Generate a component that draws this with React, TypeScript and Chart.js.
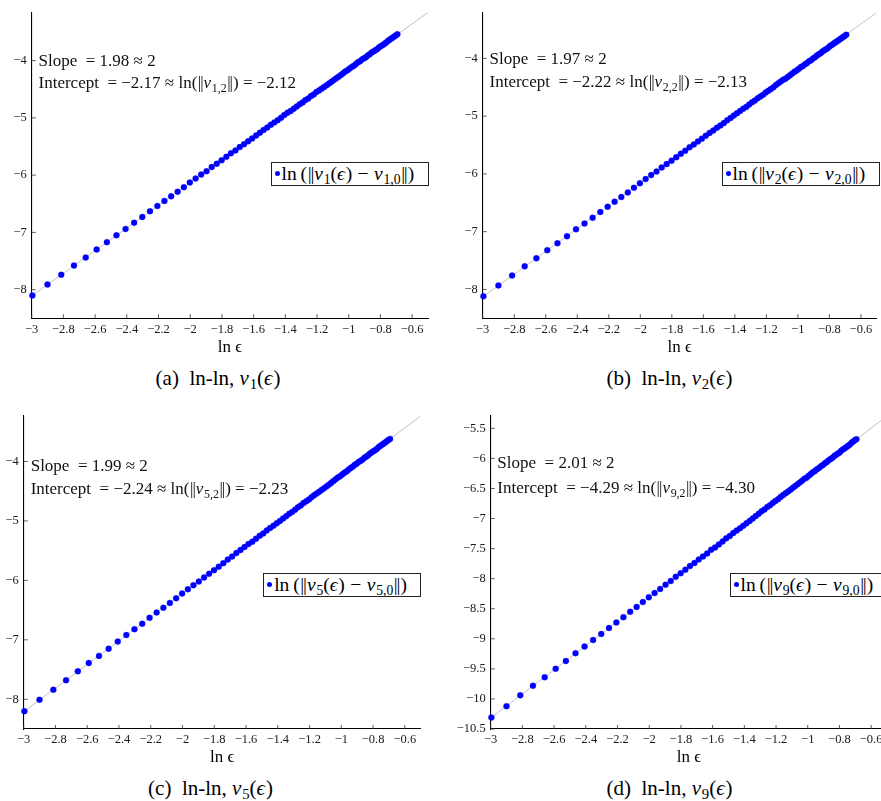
import React, { useEffect, useRef } from 'react';
import { Chart, registerables } from 'chart.js';

Chart.register(...registerables);

// ---------- data ----------
const lnEps = [
  -2.9957, -2.9004, -2.8134, -2.7334, -2.6593, -2.5903, -2.5257, -2.4651, -2.4079, -2.3539,
  -2.3026, -2.2538, -2.2073, -2.1628, -2.1203, -2.0794, -2.0402, -2.0025, -1.9661, -1.931,
  -1.8971, -1.8643, -1.8326, -1.8018, -1.772, -1.743, -1.7148, -1.6874, -1.6607, -1.6348,
  -1.6094, -1.5847, -1.5606, -1.5371, -1.5141, -1.4917, -1.4697, -1.4482, -1.4271, -1.4065,
  -1.3863, -1.3665, -1.3471, -1.328, -1.3093, -1.291, -1.273, -1.2553, -1.2379, -1.2208,
  -1.204, -1.1874, -1.1712, -1.1552, -1.1394, -1.1239, -1.1087, -1.0936, -1.0788, -1.0642,
  -1.0498, -1.0356, -1.0217, -1.0079, -0.9943, -0.9808, -0.9676, -0.9545, -0.9416, -0.9289,
  -0.9163, -0.9039, -0.8916, -0.8795, -0.8675, -0.8557, -0.844, -0.8324, -0.821, -0.8097,
  -0.7985, -0.7875, -0.7765, -0.7657, -0.755, -0.7444, -0.734, -0.7236, -0.7133, -0.7032,
  -0.6931,
];

const lnNormV1 = [
  -8.10, -7.91, -7.74, -7.58, -7.44, -7.30, -7.17, -7.05, -6.94, -6.83,
  -6.73, -6.63, -6.54, -6.45, -6.37, -6.29, -6.21, -6.13, -6.06, -5.99,
  -5.93, -5.86, -5.80, -5.74, -5.68, -5.62, -5.57, -5.51, -5.46, -5.41,
  -5.36, -5.31, -5.26, -5.21, -5.17, -5.12, -5.08, -5.04, -5.00, -4.95,
  -4.91, -4.88, -4.84, -4.80, -4.76, -4.73, -4.69, -4.66, -4.62, -4.59,
  -4.55, -4.52, -4.49, -4.46, -4.43, -4.40, -4.37, -4.34, -4.31, -4.28,
  -4.25, -4.22, -4.19, -4.17, -4.14, -4.11, -4.09, -4.06, -4.03, -4.01,
  -3.98, -3.96, -3.94, -3.91, -3.89, -3.86, -3.84, -3.82, -3.80, -3.77,
  -3.75, -3.73, -3.71, -3.69, -3.66, -3.64, -3.62, -3.60, -3.58, -3.56,
  -3.54,
];

const lnNormV2 = [
  -8.12, -7.93, -7.76, -7.60, -7.46, -7.32, -7.20, -7.08, -6.96, -6.86,
  -6.76, -6.66, -6.57, -6.48, -6.40, -6.32, -6.24, -6.16, -6.09, -6.02,
  -5.96, -5.89, -5.83, -5.77, -5.71, -5.65, -5.60, -5.54, -5.49, -5.44,
  -5.39, -5.34, -5.29, -5.25, -5.20, -5.16, -5.12, -5.07, -5.03, -4.99,
  -4.95, -4.91, -4.87, -4.84, -4.80, -4.76, -4.73, -4.69, -4.66, -4.63,
  -4.59, -4.56, -4.53, -4.50, -4.46, -4.43, -4.40, -4.37, -4.35, -4.32,
  -4.29, -4.26, -4.23, -4.21, -4.18, -4.15, -4.13, -4.10, -4.08, -4.05,
  -4.03, -4.00, -3.98, -3.95, -3.93, -3.91, -3.88, -3.86, -3.84, -3.82,
  -3.79, -3.77, -3.75, -3.73, -3.71, -3.69, -3.67, -3.65, -3.63, -3.61,
  -3.59,
];

const lnNormV5 = [
  -8.20, -8.01, -7.84, -7.68, -7.53, -7.39, -7.27, -7.15, -7.03, -6.92,
  -6.82, -6.73, -6.63, -6.54, -6.46, -6.38, -6.30, -6.22, -6.15, -6.08,
  -6.02, -5.95, -5.89, -5.83, -5.77, -5.71, -5.65, -5.60, -5.54, -5.49,
  -5.44, -5.39, -5.35, -5.30, -5.25, -5.21, -5.16, -5.12, -5.08, -5.04,
  -5.00, -4.96, -4.92, -4.88, -4.85, -4.81, -4.77, -4.74, -4.70, -4.67,
  -4.64, -4.60, -4.57, -4.54, -4.51, -4.48, -4.45, -4.42, -4.39, -4.36,
  -4.33, -4.30, -4.27, -4.25, -4.22, -4.19, -4.17, -4.14, -4.11, -4.09,
  -4.06, -4.04, -4.01, -3.99, -3.97, -3.94, -3.92, -3.90, -3.87, -3.85,
  -3.83, -3.81, -3.79, -3.76, -3.74, -3.72, -3.70, -3.68, -3.66, -3.64,
  -3.62,
];

const lnNormV9 = [
  -10.31, -10.12, -9.94, -9.78, -9.64, -9.50, -9.37, -9.24, -9.13, -9.02,
  -8.92, -8.82, -8.73, -8.64, -8.55, -8.47, -8.39, -8.31, -8.24, -8.17,
  -8.10, -8.04, -7.97, -7.91, -7.85, -7.79, -7.74, -7.68, -7.63, -7.58,
  -7.52, -7.48, -7.43, -7.38, -7.33, -7.29, -7.24, -7.20, -7.16, -7.12,
  -7.08, -7.04, -7.00, -6.96, -6.92, -6.88, -6.85, -6.81, -6.78, -6.74,
  -6.71, -6.68, -6.64, -6.61, -6.58, -6.55, -6.52, -6.49, -6.46, -6.43,
  -6.40, -6.37, -6.34, -6.32, -6.29, -6.26, -6.23, -6.21, -6.18, -6.16,
  -6.13, -6.11, -6.08, -6.06, -6.03, -6.01, -5.99, -5.96, -5.94, -5.92,
  -5.90, -5.87, -5.85, -5.83, -5.81, -5.79, -5.77, -5.74, -5.72, -5.70,
  -5.68,
];

// fitted lines (end points at ln eps = -3 and -0.5)
const fitX = [-3, -0.5];
const fitV1 = [-8.11, -3.16];
const fitV2 = [-8.13, -3.205];
const fitV5 = [-8.21, -3.235];
const fitV9 = [-10.32, -5.295];

// ticks
const xTicks = [-3, -2.8, -2.6, -2.4, -2.2, -2, -1.8, -1.6, -1.4, -1.2, -1, -0.8, -0.6];
const yTicksInt = [-8, -7, -6, -5, -4];
const yTicksHalf = [-10.5, -10, -9.5, -9, -8.5, -8, -7.5, -7, -6.5, -6, -5.5];

// annotation numbers
const letters = ['a', 'b', 'c', 'd'];
const vIndex = ['1', '2', '5', '9'];
const slopes = ['1.98', '1.97', '1.99', '2.01'];
const intercepts = ['−2.17', '−2.22', '−2.24', '−4.29'];
const lnNormCoef = ['−2.12', '−2.13', '−2.23', '−4.30'];

const seriesY = [lnNormV1, lnNormV2, lnNormV5, lnNormV9];
const fitY = [fitV1, fitV2, fitV5, fitV9];
const yTickSets = [yTicksInt, yTicksInt, yTicksInt, yTicksHalf];

// ---------- layout (page pixels) ----------
type Layout = {
  cx: number; cy: number; cw: number; ch: number;
  l: number; t: number; r: number; b: number;
  titleY: number; yMin: number; yMax: number;
  sx: number; sy: number; iy: number;
  capX: number; capY: number;
};

const layouts: Layout[] = [
  { cx: 0, cy: 0, cw: 440, ch: 360, l: 31.7, t: 5.5, r: 428, b: 318.3, titleY: 347.7, yMin: -8.5, yMax: -3.16, sx: 38.5, sy: 60.7, iy: 83.3, capX: 218, capY: 378 },
  { cx: 440, cy: 0, cw: 441, ch: 360, l: 482.7, t: 5.5, r: 879, b: 318.3, titleY: 347.7, yMin: -8.5, yMax: -3.205, sx: 489.5, sy: 58.7, iy: 81.7, capX: 669.5, capY: 378 },
  { cx: 0, cy: 400, cw: 440, ch: 370, l: 23.7, t: 416, r: 420.7, b: 729, titleY: 758, yMin: -8.5, yMax: -3.235, sx: 30.7, sy: 465.7, iy: 489.3, capX: 210.5, capY: 788.3 },
  { cx: 440, cy: 400, cw: 460, ch: 370, l: 490.7, t: 416, r: 887, b: 729, titleY: 758, yMin: -10.5, yMax: -5.295, sx: 497.3, sy: 463.3, iy: 487.7, capX: 669.5, capY: 788.3 },
];

const FONT = "'Liberation Serif', 'DejaVu Serif', serif";
const fmt = (v: number) => (v < 0 ? '\u2212' : '') + String(Math.abs(v));

const inwardTicks = {
  id: 'inwardTicks',
  afterDraw(chart: any) {
    const { ctx, chartArea } = chart;
    const xs = chart.scales.x;
    const ys = chart.scales.y;
    ctx.save();
    ctx.strokeStyle = '#333';
    ctx.lineWidth = 0.8;
    ctx.beginPath();
    xs.ticks.forEach((t: any) => {
      const p = xs.getPixelForValue(t.value);
      ctx.moveTo(p, chartArea.bottom);
      ctx.lineTo(p, chartArea.bottom - 4);
    });
    ys.ticks.forEach((t: any) => {
      const p = ys.getPixelForValue(t.value);
      ctx.moveTo(chartArea.left, p);
      ctx.lineTo(chartArea.left + 4, p);
    });
    ctx.stroke();
    ctx.restore();
  },
};

const Sub = ({ children }: { children: React.ReactNode }) => (
  <span style={{ fontSize: '0.7em', verticalAlign: '-0.3em', lineHeight: 0 }}>{children}</span>
);
const It = ({ children }: { children: React.ReactNode }) => (
  <span style={{ fontStyle: 'italic', marginRight: '0.04em' }}>{children}</span>
);
// double vertical bar (norm) built from two plain bars
const Norm = () => <span style={{ letterSpacing: '-0.06em', marginRight: '0.06em', marginLeft: '0.03em' }}>||</span>;
const Op = ({ children }: { children: React.ReactNode }) => (
  <span style={{ margin: '0 0.28em' }}>{children}</span>
);

function Panel({ idx }: { idx: number }) {
  const ref = useRef<HTMLCanvasElement>(null);
  const L = layouts[idx];
  useEffect(() => {
    const canvas = ref.current!;
    const titleSize = 17;
    const titleLH = titleSize * 1.2;
    const chart = new Chart(canvas, {
      type: 'scatter',
      data: {
        datasets: [
          {
            type: 'scatter',
            data: lnEps.map((x, i) => ({ x, y: seriesY[idx][i] })),
            pointRadius: 3,
            pointBackgroundColor: '#0000ff',
            pointBorderColor: '#0000ff',
            pointBorderWidth: 0.3,
            clip: false,
            order: 0,
          } as any,
          {
            type: 'line',
            data: fitX.map((x, i) => ({ x, y: fitY[idx][i] })),
            borderColor: '#c2c2c2',
            borderWidth: 1,
            pointRadius: 0,
            fill: false,
            order: 1,
          } as any,
        ],
      },
      options: {
        responsive: false,
        animation: false,
        events: [],
        layout: {
          padding: { left: 0, top: L.t - L.cy, right: L.cx + L.cw - L.r, bottom: 0 },
        },
        plugins: { legend: { display: false }, tooltip: { enabled: false } },
        scales: {
          x: {
            type: 'linear',
            min: -3,
            max: -0.5,
            afterBuildTicks: (s: any) => { s.ticks = xTicks.map((v) => ({ value: v })); },
            afterFit: (s: any) => { s.height = L.cy + L.ch - L.b; },
            grid: { display: true, drawOnChartArea: false, drawTicks: false },
            border: { display: true, color: '#000', width: 1.1 },
            ticks: {
              autoSkip: false, maxRotation: 0, padding: 3.5, color: '#1a1a1a',
              font: { family: FONT, size: 12.5 },
              callback: (v: any) => fmt(Number(v)),
            },
            title: {
              display: true, text: 'ln ϵ', color: '#000',
              font: { family: FONT, size: titleSize, lineHeight: 1.2 },
              padding: { top: 0, bottom: L.cy + L.ch - L.titleY - titleLH / 2 },
            },
          },
          y: {
            type: 'linear',
            min: L.yMin,
            max: L.yMax,
            afterBuildTicks: (s: any) => { s.ticks = yTickSets[idx].map((v) => ({ value: v })); },
            afterFit: (s: any) => { s.width = L.l - L.cx; },
            grid: { display: true, drawOnChartArea: false, drawTicks: false },
            border: { display: true, color: '#000', width: 1.1 },
            ticks: {
              autoSkip: false, padding: 5, color: '#1a1a1a',
              font: { family: FONT, size: 12.5 },
              callback: (v: any) => fmt(Number(v)),
            },
          },
        },
      } as any,
      plugins: [inwardTicks],
    });
    return () => chart.destroy();
  }, [idx]);

  const k = vIndex[idx];
  const legendW = 158;
  const legendTop = (L.t + L.b) / 2;
  return (
    <>
      <canvas
        ref={ref}
        width={L.cw}
        height={L.ch}
        style={{ position: 'absolute', left: L.cx, top: L.cy, width: L.cw, height: L.ch }}
      />
      <div style={{ position: 'absolute', left: L.sx, top: L.sy - 11, lineHeight: '22px', fontSize: 17, whiteSpace: 'nowrap', color: '#111' }}>
        Slope{'\u2002'}= {slopes[idx]} ≈ 2
      </div>
      <div style={{ position: 'absolute', left: L.sx, top: L.iy - 11, lineHeight: '22px', fontSize: 17, whiteSpace: 'nowrap', color: '#111' }}>
        Intercept{'\u2002'}= {intercepts[idx]} ≈ ln(<Norm /><It>v</It><Sub>{k},2</Sub><Norm />) = {lnNormCoef[idx]}
      </div>
      <div
        style={{
          position: 'absolute', left: L.r + 0.5 - legendW, top: legendTop, width: legendW, height: 24,
          boxSizing: 'border-box', border: '1px solid #222', background: '#fff',
          display: 'flex', alignItems: 'center', whiteSpace: 'nowrap', fontSize: 19.5, color: '#000',
          overflow: 'hidden',
        }}
      >
        <span style={{ display: 'inline-block', flex: 'none', width: 5, height: 5, borderRadius: '50%', background: '#0000ff', marginLeft: 3, marginRight: 2 }} />
        <span>
          ln{'\u2009'}(<Norm /><It>v</It><Sub>{k}</Sub>(<It>ϵ</It>)<Op>−</Op><It>v</It><Sub>{k},0</Sub><Norm />)
        </span>
      </div>
      <div
        style={{
          position: 'absolute', left: L.capX - 150, width: 300, top: L.capY - 13, lineHeight: '26px',
          textAlign: 'center', fontSize: 21, whiteSpace: 'nowrap', color: '#000',
        }}
      >
        ({letters[idx]}){'\u2002'}ln-ln, <It>v</It><Sub>{k}</Sub>(<It>ϵ</It>)
      </div>
    </>
  );
}

export default function App() {
  return (
    <div
      style={{
        position: 'fixed', left: 0, top: 0, width: 881, height: 801, overflow: 'hidden',
        background: '#fff', fontFamily: FONT,
      }}
    >
      {[0, 1, 2, 3].map((i) => (
        <Panel key={i} idx={i} />
      ))}
    </div>
  );
}
